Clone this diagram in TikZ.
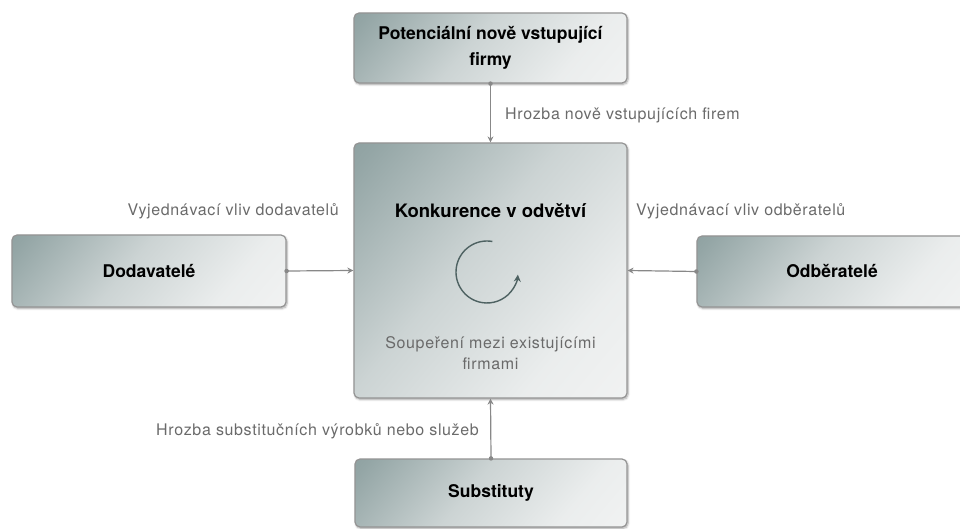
\documentclass[tikz,border=0pt]{standalone}
\usepackage{fontspec}
\setmainfont{TeX Gyre Heros}
\newfontfamily\labelfont[LetterSpace=4]{TeX Gyre Heros}
\usetikzlibrary{arrows.meta,shadows.blur}
\definecolor{boxedge}{HTML}{949494}
\definecolor{labelgray}{HTML}{6A6A6A}
\definecolor{linkgray}{HTML}{888888}
\definecolor{cycleteal}{HTML}{4E6262}
% diagonal fill of the boxes: dark teal grey fading to near white
\pgfdeclarehorizontalshading{boxshade}{100bp}{%
  rgb(0bp)=(0.48,0.56,0.56);
  rgb(18bp)=(0.58,0.65,0.65);
  rgb(45bp)=(0.80,0.83,0.83);
  rgb(70bp)=(0.92,0.93,0.93);
  rgb(100bp)=(0.97,0.97,0.97)}
\tikzset{
  forcebox/.style={draw=boxedge, line width=1.2pt, rounded corners=5pt,
    shading=boxshade, shading angle=-40,
    blur shadow={shadow xshift=1pt, shadow yshift=-1.5pt, shadow blur steps=6, shadow opacity=35},
    align=center, font=\fontsize{17.5}{26}\selectfont\bfseries, inner sep=0pt},
  forcelabel/.style={text=labelgray, font=\labelfont\fontsize{16}{20}\selectfont, inner sep=0pt},
  link/.style={draw=linkgray, line width=1.2pt, -{Stealth[length=6pt,width=6pt]}},
  linkdot/.style={fill=linkgray, circle, inner sep=0pt, minimum size=4.5pt}
}
\begin{document}
\begin{tikzpicture}[x=1pt, y=-1pt]
\useasboundingbox (0,0) rectangle (960,529);
\begin{scope}
\clip (0,0) rectangle (960,529);
% the five forces
\node[forcebox, minimum width=273pt, minimum height=70pt] (entrants) at (490.5,48) {Potenciální nově vstupující\\firmy};
\node[forcebox, minimum width=273pt, minimum height=255pt] (rivalry) at (490.5,270.5) {};
\node[forcebox, minimum width=274pt, minimum height=72pt] (suppliers) at (149,271) {Dodavatelé};
\node[forcebox, minimum width=270pt, minimum height=71pt] (buyers) at (832,271.5) {Odběratelé};
\node[forcebox, minimum width=272pt, minimum height=68pt] (substitutes) at (491,493) {Substituty};
\end{scope}
% contents of the central box
\node[font=\fontsize{18.5}{22}\selectfont\bfseries, inner sep=0pt] (rivtitle) at (490.5,211) {Konkurence v odvětví};
\coordinate (cyc) at (487,272);
\draw[cycleteal, line width=1.4pt, -{Stealth[length=7pt,width=7pt]}] ([shift={(80:31pt)}]cyc) arc[start angle=80, end angle=355, radius=31pt];
\node[forcelabel, align=center, font=\labelfont\fontsize{16}{21}\selectfont] (rivtext) at (490.5,353) {Soupeření mezi existujícími\\firmami};
% connectors
\draw[link] (entrants.south) -- (rivalry.north);
\node[linkdot] at (entrants.south) {};
\draw[link] (suppliers.east) -- (rivalry.west);
\node[linkdot] at (suppliers.east) {};
\draw[link] (buyers.west) -- (rivalry.east);
\node[linkdot] at (buyers.west) {};
\draw[link] (substitutes.north) -- (rivalry.south);
\node[linkdot] at (substitutes.north) {};
% labels of the forces
\node[forcelabel, anchor=west] (l1) at (505,115) {Hrozba nově vstupujících firem};
\node[forcelabel, anchor=east] (l2) at (339,211) {Vyjednávací vliv dodavatelů};
\node[forcelabel, anchor=west] (l3) at (636,211) {Vyjednávací vliv odběratelů};
\node[forcelabel, anchor=east] (l4) at (479,431) {Hrozba substitučních výrobků nebo služeb};
\end{tikzpicture}
\end{document}
